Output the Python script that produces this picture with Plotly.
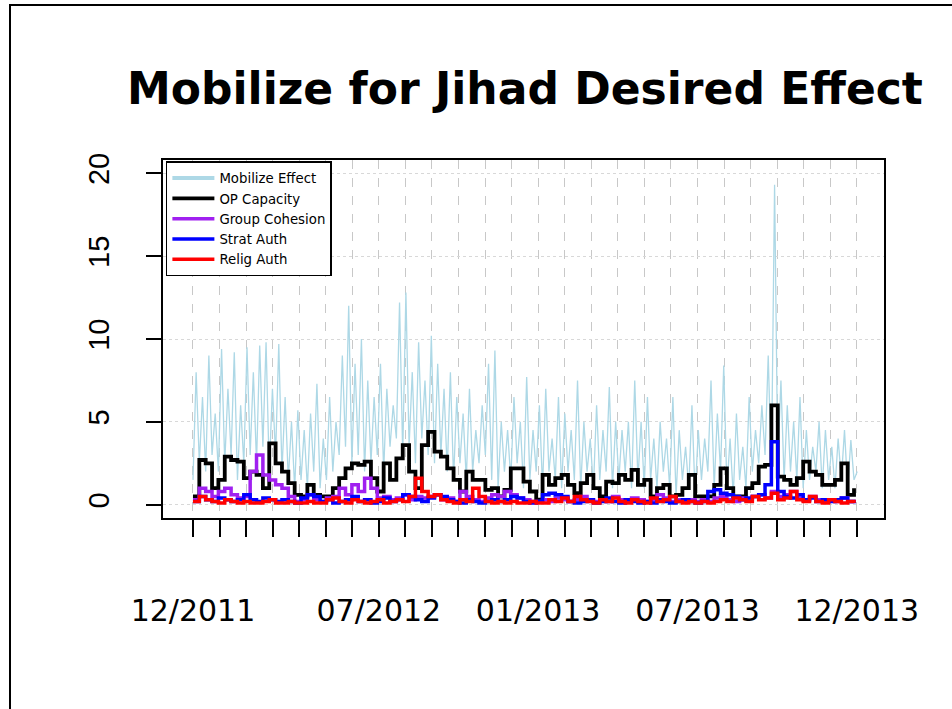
import pandas as pd
import plotly.graph_objects as go

# ---------------- data ----------------
week_start = "2011-12-01"
n_weeks = 105

op_capacity = [0.5, 2.7, 2.5, 1.0, 1.5, 2.9, 2.7, 2.6, 1.6, 2.0,
               1.8, 1.0, 3.7, 2.5, 2.0, 1.3, 0.6, 0.5, 1.2, 0.6,
               0.5, 0.5, 1.0, 1.6, 2.2, 2.5, 2.4, 2.6, 1.6, 0.8,
               2.5, 1.5, 2.8, 3.6, 2.0, 1.0, 3.6, 4.4, 3.2, 2.9,
               2.2, 1.5, 0.8, 2.0, 1.5, 1.5, 0.9, 1.0, 0.5, 0.9,
               2.2, 2.2, 1.4, 0.8, 0.3, 1.8, 1.2, 1.6, 1.8, 1.2,
               0.7, 1.3, 1.8, 1.0, 0.5, 1.4, 1.3, 1.8, 1.5, 2.1,
               1.2, 1.5, 0.5, 1.0, 1.2, 0.5, 0.6, 1.0, 1.8, 0.5,
               0.5, 0.5, 1.2, 2.2, 1.0, 0.5, 0.5, 1.0, 1.3, 2.3,
               2.4, 6.0, 1.7, 1.5, 1.2, 1.6, 2.6, 2.0, 1.8, 1.2,
               1.2, 1.5, 2.5, 0.6, 1.0]

group_cohesion = [0.3, 1.0, 0.8, 0.5, 0.8, 1.0, 0.6, 0.4, 0.5, 2.0,
                  3.0, 1.8, 1.5, 1.2, 1.0, 0.5, 0.2, 0.3, 0.6, 0.3,
                  0.2, 0.4, 0.5, 1.0, 0.6, 1.2, 0.8, 1.6, 1.0, 0.4,
                  0.5, 0.3, 0.4, 0.6, 0.3, 0.5, 0.4, 0.5, 0.6, 0.3,
                  0.4, 0.2, 0.8, 0.5, 0.3, 0.2, 0.4, 0.6, 0.5, 0.8,
                  0.6, 0.4, 0.3, 0.2, 0.2, 0.3, 0.2, 0.4, 0.3, 0.2,
                  0.3, 0.5, 0.3, 0.2, 0.3, 0.2, 0.5, 0.3, 0.2, 0.4,
                  0.3, 0.2, 0.3, 0.6, 0.4, 0.2, 0.3, 0.2, 0.3, 0.2,
                  0.3, 0.2, 0.4, 0.5, 0.3, 0.2, 0.4, 0.3, 0.5, 0.6,
                  0.4, 0.8, 0.5, 0.6, 0.8, 0.4, 0.3, 0.5, 0.3, 0.2,
                  0.3, 0.2, 0.4, 0.2, 0.3]

strat_auth = [0.2, 0.5, 0.3, 0.2, 0.4, 0.3, 0.2, 0.3, 0.6, 0.3,
              0.2, 0.4, 0.3, 0.2, 0.3, 0.2, 0.1, 0.4, 0.6, 0.5,
              0.2, 0.3, 0.1, 0.2, 0.3, 0.5, 0.2, 0.3, 0.1, 0.2,
              0.4, 0.2, 0.3, 0.6, 0.5, 0.3, 0.2, 0.4, 0.6, 0.5,
              0.3, 0.2, 0.1, 0.3, 0.2, 0.1, 0.2, 0.3, 0.2, 0.3,
              0.5, 0.4, 0.2, 0.1, 0.2, 0.6, 0.7, 0.6, 0.5, 0.2,
              0.1, 0.2, 0.3, 0.1, 0.2, 0.4, 0.2, 0.1, 0.3, 0.2,
              0.1, 0.2, 0.1, 0.3, 0.2, 0.1, 0.2, 0.3, 0.2, 0.1,
              0.2, 0.8, 0.9, 0.7, 0.6, 0.5, 0.3, 0.4, 0.5, 0.6,
              1.2, 3.8, 0.8, 0.5, 0.4, 0.6, 0.3, 0.4, 0.2, 0.3,
              0.2, 0.3, 0.4, 0.2, 0.3]

relig_auth = [0.2, 0.5, 0.3, 0.2, 0.1, 0.3, 0.2, 0.1, 0.2, 0.1,
              0.1, 0.2, 0.3, 0.1, 0.1, 0.2, 0.1, 0.1, 0.2, 0.1,
              0.1, 0.3, 0.4, 0.2, 0.1, 0.3, 0.2, 0.1, 0.2, 0.3,
              0.1, 0.2, 0.3, 0.2, 0.5, 1.6, 0.8, 0.5, 0.6, 0.3,
              0.2, 0.1, 0.3, 0.2, 1.0, 0.5, 0.2, 0.1, 0.2, 0.1,
              0.2, 0.1, 0.1, 0.2, 0.1, 0.1, 0.3, 0.2, 0.4, 0.2,
              0.5, 0.3, 0.2, 0.1, 0.3, 0.2, 0.4, 0.2, 0.1, 0.3,
              0.2, 0.1, 0.4, 0.2, 0.3, 0.5, 0.2, 0.1, 0.2, 0.1,
              0.2, 0.1, 0.2, 0.3, 0.2, 0.4, 0.3, 0.2, 0.5, 0.3,
              0.4, 0.7, 0.3, 0.4, 0.8, 0.3, 0.2, 0.5, 0.2, 0.1,
              0.3, 0.2, 0.1, 0.2, 0.1]

# Mobilize Effect: per week one low reading and one spike reading
mobilize_lows = [1.5, 2.5, 2.0, 3.0, 2.0, 2.5, 3.0, 1.5, 2.5, 3.0,
                 2.5, 3.5, 2.0, 3.0, 2.0, 1.5, 1.0, 1.5, 1.0, 2.0,
                 1.0, 1.5, 2.0, 3.0, 3.5, 2.5, 3.0, 2.0, 2.5, 3.0,
                 2.0, 3.5, 4.0, 3.0, 3.5, 2.5, 4.0, 3.0, 2.5, 3.0,
                 2.0, 1.5, 2.5, 1.5, 2.0, 2.5, 3.0, 1.5, 1.0, 2.0,
                 1.5, 2.5, 1.0, 1.5, 2.0, 1.0, 2.0, 1.5, 1.0, 2.0,
                 1.5, 1.0, 2.0, 1.0, 1.5, 2.0, 1.0, 1.5, 2.0, 1.0,
                 1.5, 1.0, 1.5, 1.0, 2.0, 1.0, 0.5, 1.5, 1.0, 0.5,
                 1.5, 2.0, 1.0, 2.0, 1.0, 0.5, 1.5, 1.0, 2.0, 2.5,
                 3.0, 2.0, 2.5, 1.5, 2.0, 1.5, 1.0, 1.5, 2.0, 1.0,
                 1.5, 1.0, 1.5, 1.0, 1.5]
mobilize_peaks = [8.0, 6.5, 9.0, 5.5, 9.4, 7.0, 9.2, 6.0, 9.5, 8.0,
                  9.6, 9.8, 7.0, 9.7, 6.5, 5.0, 5.7, 4.5, 5.5, 7.3,
                  4.0, 6.5, 5.0, 9.0, 12.0, 8.5, 10.0, 7.5, 6.5, 8.5,
                  7.0, 6.0, 12.2, 12.8, 8.0, 9.8, 7.5, 10.2, 8.5, 7.0,
                  8.0, 6.5, 5.5, 7.0, 4.5, 6.0, 8.5, 9.3, 5.0, 4.5,
                  6.5, 5.0, 7.7, 4.5, 6.0, 7.0, 4.0, 6.5, 5.5, 4.5,
                  7.5, 5.0, 4.0, 6.0, 4.5, 7.1, 5.0, 4.5, 5.0, 7.5,
                  5.0, 6.5, 4.0, 5.0, 4.0, 6.5, 4.5, 3.5, 6.0, 4.5,
                  4.0, 7.5, 5.5, 8.4, 4.0, 5.5, 3.5, 6.5, 4.5, 6.0,
                  9.0, 19.3, 7.5, 6.0, 5.0, 6.5, 4.5, 3.5, 5.0, 4.5,
                  3.5, 4.0, 4.5, 3.9, 2.0]

tick_labels = {0: "12/2011", 7: "07/2012", 13: "01/2013", 19: "07/2013", 25: "12/2013"}
axis_start, axis_end = "2011-12-01", "2013-12-01"

# ---------------- build ----------------
weeks = pd.date_range(week_start, periods=n_weeks, freq="7D")
half_weeks = pd.date_range(week_start, periods=2 * n_weeks, freq="84h")
mobilize = []
for lo, hi in zip(mobilize_lows, mobilize_peaks):
    mobilize += [lo, hi]

tickvals = pd.date_range(axis_start, axis_end, periods=26)
ticktext = [tick_labels.get(i, "") for i in range(26)]

ARIAL = "Arial, Liberation Sans, sans-serif"
WIDE = "DejaVu Sans, Arial, sans-serif"
fig = go.Figure()

fig.add_trace(go.Scatter(x=[None], y=[None], mode="lines", name="Mobilize Effect",
                         line=dict(color="#ADD8E6", width=4)))
fig.add_trace(go.Scatter(x=half_weeks, y=mobilize, mode="lines", showlegend=False,
                         line=dict(color="#ADD8E6", width=1.3)))
fig.add_trace(go.Scatter(x=weeks, y=op_capacity, mode="lines", name="OP Capacity",
                         line=dict(color="black", width=3.8, shape="hv")))
fig.add_trace(go.Scatter(x=weeks, y=group_cohesion, mode="lines", name="Group Cohesion",
                         line=dict(color="#A020F0", width=3.5, shape="hv")))
fig.add_trace(go.Scatter(x=weeks, y=strat_auth, mode="lines", name="Strat Auth",
                         line=dict(color="#0000FF", width=3.5, shape="hv")))
fig.add_trace(go.Scatter(x=weeks, y=relig_auth, mode="lines", name="Relig Auth",
                         line=dict(color="#FF0000", width=3.5, shape="hv")))

L, R, T, B = 163, 68, 160, 191
W, H = 952, 709
pw, ph = W - L - R, H - T - B

def px_x(p):
    return (p - L) / pw

def px_y(p):
    return (H - B - p) / ph

fig.update_layout(
    width=W, height=H,
    margin=dict(l=L, r=R, t=T, b=B, pad=0),
    paper_bgcolor="white", plot_bgcolor="white",
    font=dict(family=ARIAL, color="black"),
    showlegend=True,
    legend=dict(x=0.004, y=0.996, xanchor="left", yanchor="top",
                bgcolor="white", bordercolor="black", borderwidth=1.5,
                font=dict(size=13.3, family=WIDE), itemwidth=42,
                tracegroupgap=0),
    annotations=[dict(text="<b>Mobilize for Jihad Desired Effect</b>",
                      x=px_x(525), y=px_y(88), xref="paper", yref="paper",
                      xanchor="center", yanchor="middle", showarrow=False,
                      font=dict(size=44, family=WIDE, color="black"))],
    shapes=[dict(type="rect", xref="paper", yref="paper",
                 x0=px_x(10), x1=px_x(990), y0=px_y(5), y1=px_y(760),
                 line=dict(color="black", width=2), layer="above")],
)

fig.update_xaxes(
    type="date", range=["2011-10-29", "2013-12-31"],
    tickmode="array", tickvals=tickvals, ticktext=ticktext,
    ticks="outside", ticklen=17, tickwidth=1.5, tickcolor="black",
    tickfont=dict(size=30, family=WIDE, color="black"),
    ticklabelstandoff=48,
    showgrid=True, gridcolor="#C8C8C8", griddash="dash", gridwidth=1,
    showline=True, mirror=True, linecolor="black", linewidth=2,
    zeroline=False,
)
fig.update_yaxes(
    range=[-0.8, 20.8], tickmode="array", tickvals=[0, 5, 10, 15, 20],
    ticks="outside", ticklen=15, tickwidth=1.5, tickcolor="black",
    tickangle=-90, tickfont=dict(size=29, family=ARIAL, color="black"),
    ticklabelstandoff=25,
    showgrid=True, gridcolor="#D8D8D8", griddash="dot", gridwidth=1,
    showline=True, mirror=True, linecolor="black", linewidth=2,
    zeroline=False,
)

fig.write_html("out.html", config={"displayModeBar": False},
               post_script="document.body.style.margin='0';")
